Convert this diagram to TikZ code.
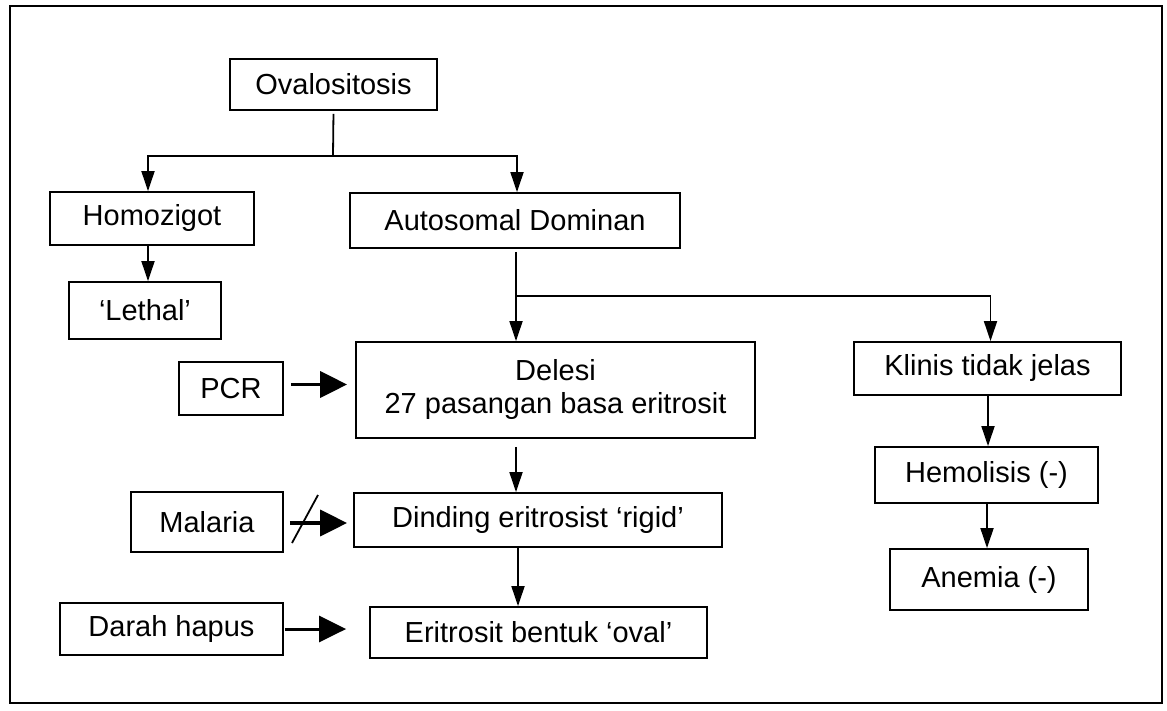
\documentclass[tikz,border=0pt]{standalone}
\usepackage{fontspec}
\setmainfont{Liberation Sans}
\usetikzlibrary{arrows.meta}
\begin{document}
\begin{tikzpicture}[x=1pt,y=-1pt,
  box/.style={draw, line width=1.8pt, inner sep=0pt, align=center,
    font=\fontsize{29}{33}\selectfont},
  arr/.style={line width=1.8pt, -{Triangle[length=20pt,width=13pt]}},
  bigarr/.style={line width=3.5pt, -{Triangle[length=27pt,width=26pt]}},
  ln/.style={line width=1.8pt}]
\useasboundingbox (0,0) rectangle (1167,711);
\draw[line width=2.5pt] (10,6) rectangle (1162,703);

\node[box, minimum width=207pt, minimum height=51pt] (ov) at (333.5,84.5) {Ovalositosis};
\node[box, minimum width=204pt, minimum height=53pt] (homo) at (152,218.5) {Homozigot};
\node[box, minimum width=330pt, minimum height=55pt] (auto) at (515,220.5) {Autosomal Dominan};
\node[box, minimum width=152pt, minimum height=57pt] (lethal) at (145,310.5) {‘Lethal’};
\node[box, minimum width=399pt, minimum height=96pt] (del) at (555.5,390) {Delesi\\27 pasangan basa eritrosit};
\node[box, minimum width=267pt, minimum height=53pt] (klinis) at (987.5,368.5) {Klinis tidak jelas};
\node[box, minimum width=104pt, minimum height=53pt] (pcr) at (231,388.5) {PCR};
\node[box, minimum width=152pt, minimum height=60pt] (mal) at (207,522) {Malaria};
\node[box, minimum width=368pt, minimum height=54pt] (ding) at (538,520) {Dinding eritrosist ‘rigid’};
\node[box, minimum width=223pt, minimum height=52pt] (dar) at (171.5,629) {Darah hapus};
\node[box, minimum width=337pt, minimum height=51pt] (eri) at (538.5,632.5) {Eritrosit bentuk ‘oval’};
\node[box, minimum width=223pt, minimum height=56pt] (hemo) at (986.5,475) {Hemolisis (-)};
\node[box, minimum width=198pt, minimum height=61pt] (anem) at (989,579.5) {Anemia (-)};

% top split
\coordinate (j1) at (333,156);
\draw[ln, shorten <=3pt] (ov.south) -- (j1);
\draw[arr] (j1) -| ([xshift=-4pt]homo.north);
\draw[arr] (j1) -| ([xshift=2pt]auto.north);
\draw[arr] ([xshift=-4pt]homo.south) -- ([xshift=3pt]lethal.north);

% autosomal split
\coordinate (j2) at (516,296);
\draw[arr, shorten <=3pt] ([xshift=1pt]auto.south) -- (del.north -| j2);
\draw[arr] (j2) -| ([xshift=3pt]klinis.north);

% main chain
\draw[arr, shorten <=8pt] (del.south -| j2) -- (ding.north -| j2);
\draw[arr] ([xshift=-20pt]ding.south) -- ([xshift=-20.5pt]eri.north);

% right chain
\draw[arr] ([xshift=0.5pt]klinis.south) -- ([xshift=1.5pt]hemo.north);
\draw[arr] ([xshift=0.5pt]hemo.south) -- ([xshift=-2pt]anem.north);

% side inputs
\draw[bigarr, shorten <=7pt, shorten >=8pt] ([yshift=4pt]pcr.east) -- ([yshift=4pt]pcr.east -| del.west);
\draw[bigarr, shorten <=6pt, shorten >=6pt] ([yshift=-1pt]mal.east) -- ([yshift=-1pt]mal.east -| ding.west);
\draw[ln] (292,543) -- (318,495);
\draw[bigarr, line width=3pt, shorten <=1pt, shorten >=23pt] (dar.east) -- (dar.east -| eri.west);
\end{tikzpicture}
\end{document}
